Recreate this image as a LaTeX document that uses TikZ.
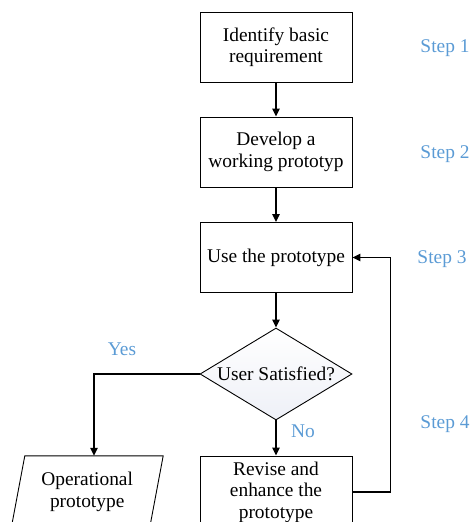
\documentclass[tikz,border=0pt]{standalone}
\usepackage{fontspec}
\setmainfont{Liberation Serif}
\usetikzlibrary{shapes.geometric,arrows.meta,calc}
\definecolor{steptext}{RGB}{91,155,213}
\definecolor{diamondshade}{RGB}{238,240,247}
\begin{document}
\begin{tikzpicture}[x=1bp,y=-1bp,
  every node/.style={font=\fontsize{19.4bp}{21.5bp}\selectfont},
  procbox/.style={draw, line width=0.9bp, minimum width=152bp, minimum height=70bp,
    align=center, inner sep=0pt, fill=white},
  decision/.style={diamond, draw, line width=0.9bp, minimum width=152bp, minimum height=92bp,
    aspect=1.65, inner sep=0pt, top color=white, bottom color=diamondshade},
  ghost/.style={minimum width=138bp, minimum height=72bp, align=center, inner sep=0pt},
  steplabel/.style={text=steptext},
  arr/.style={line width=1.3bp, -{Triangle[length=8bp,width=7.5bp]}}
]
\useasboundingbox (0,0) rectangle (472,522);

% process steps
\node[procbox] (ident) at (276,47) {Identify basic\\requirement};
\node[procbox] (dev)   at (276,152) {Develop a\\working prototyp};
\node[procbox] (use)   at (276,257.5) {Use the prototype};
\node[decision] (sat)  at (276,374) {User Satisfied?};
\node[procbox, minimum height=72bp] (rev) at (276,492) {Revise and\\enhance the\\prototype};

% output parallelogram drawn around a plain text node
\node[ghost] (op) at (87.2,492) {Operational\\prototype};
\draw[line width=0.9bp]
  ($(op.north west)+(6.8,0)$) -- ($(op.north east)+(6.8,0)$) --
  ($(op.south east)+(-6.8,0)$) -- ($(op.south west)+(-6.8,0)$) -- cycle;
\coordinate (optop) at ($(op.north)+(6.8,0)$);

% connectors
\draw[arr] (ident) -- (dev);
\draw[arr] (dev) -- (use);
\draw[arr] (use) -- (sat);
\draw[arr] (sat) -- (rev);
\draw[arr] (sat.west) -| (optop);
\draw[arr] (rev.east) -- ++(38,0) |- (use.east);

% branch labels
\node[steplabel] (yes) at (122,349) {Yes};
\node[steplabel] (no)  at (303,431) {No};

% step labels
\node[steplabel] (s1) at (445,48) {Step 1};
\node[steplabel] (s2) at (445,154) {Step 2};
\node[steplabel] (s3) at (442,259) {Step 3};
\node[steplabel] (s4) at (445,424) {Step 4};
\end{tikzpicture}
\end{document}
